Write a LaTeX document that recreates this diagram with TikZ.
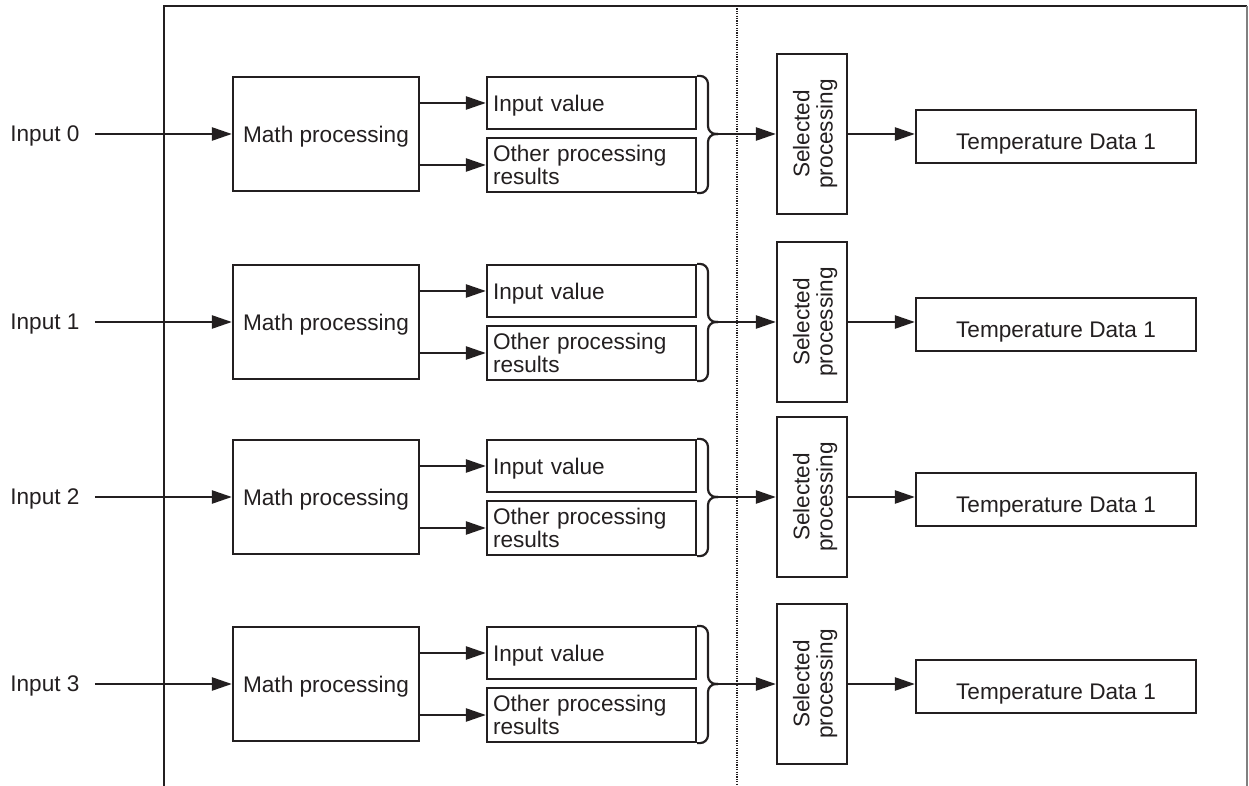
\documentclass[tikz,border=0pt]{standalone}
\usepackage{fontspec}
\setmainfont{Liberation Sans}
\usepackage{graphicx}
\usetikzlibrary{arrows.meta,calc}
\definecolor{ink}{HTML}{231F20}
\begin{document}
\begin{tikzpicture}[x=0.5pt,y=-0.5pt,
  font=\fontsize{11.3}{11.5}\selectfont, text=ink,
  box/.style={draw=ink, line width=1.1pt, inner sep=0pt},
  lbox/.style={box, text width=98.5pt, inner xsep=3pt, align=left},
  conn/.style={draw=ink, line width=1.2pt, -{Triangle[length=10pt,width=6.5pt]}},
  brace/.style={draw=ink, line width=1.1pt, rounded corners=4pt}]
\useasboundingbox (0,0) rectangle (1249,786);
% frame
\coordinate (fbl) at (164,786);
\coordinate (ftl) at (164,6);
\coordinate (ftr) at (1247,6);
\coordinate (fbr) at (1247,786);
\coordinate (dtop) at (737,6);
\coordinate (dbot) at (737,786);
\draw[ink, line width=1.1pt] (fbl) -- (ftl) -- (ftr);
\draw[gray, line width=0.6pt] (ftr) -- (fbr);
\draw[ink, line width=0.7pt, dash pattern=on 0.6pt off 0.6pt] (dtop) -- (dbot);
\foreach \i/\c in {0/134,1/322,2/497,3/684}{
  \node[anchor=west, inner sep=0pt, text depth=0pt] (in\i) at (10,\c) {Input \i};
  \node[box, minimum width=93pt, minimum height=57pt, text depth=0pt] (m\i) at (326,\c) {Math processing};
  \node[lbox, minimum height=26pt, text depth=0pt] (iv\i) at (591.5,\c-31) {Input value};
  \node[lbox, minimum height=27pt] (op\i) at (591.5,\c+31) {Other processing\\results};
  \coordinate (bm\i) at (708,\c);
  \coordinate (tip\i) at (718,\c);
  \node[box, minimum width=35pt, minimum height=80pt] (s\i) at (812,\c)
    {\rotatebox{90}{\begin{tabular}{@{}c@{}}\rule{0pt}{12.5pt}Selected\\processing\end{tabular}}};
  \node[box, minimum width=140pt, minimum height=26.5pt] (t\i) at (1056,\c+2.5)
    {\raisebox{-2.5pt}[\height][0pt]{Temperature Data 1}};
  \draw[conn] ([xshift=7.5pt]in\i.east) -- (m\i.west);
  \draw[conn] (m\i.east |- iv\i.west) -- (iv\i.west);
  \draw[conn] (m\i.east |- op\i.west) -- (op\i.west);
  \draw[brace] (iv\i.north east) -| (bm\i) -- (tip\i);
  \draw[brace] (op\i.south east) -| (bm\i) -- (tip\i);
  \draw[conn] (tip\i) -- (s\i.west);
  \draw[conn] (s\i.east) -- (s\i.east -| t\i.west);
}
\end{tikzpicture}
\end{document}
